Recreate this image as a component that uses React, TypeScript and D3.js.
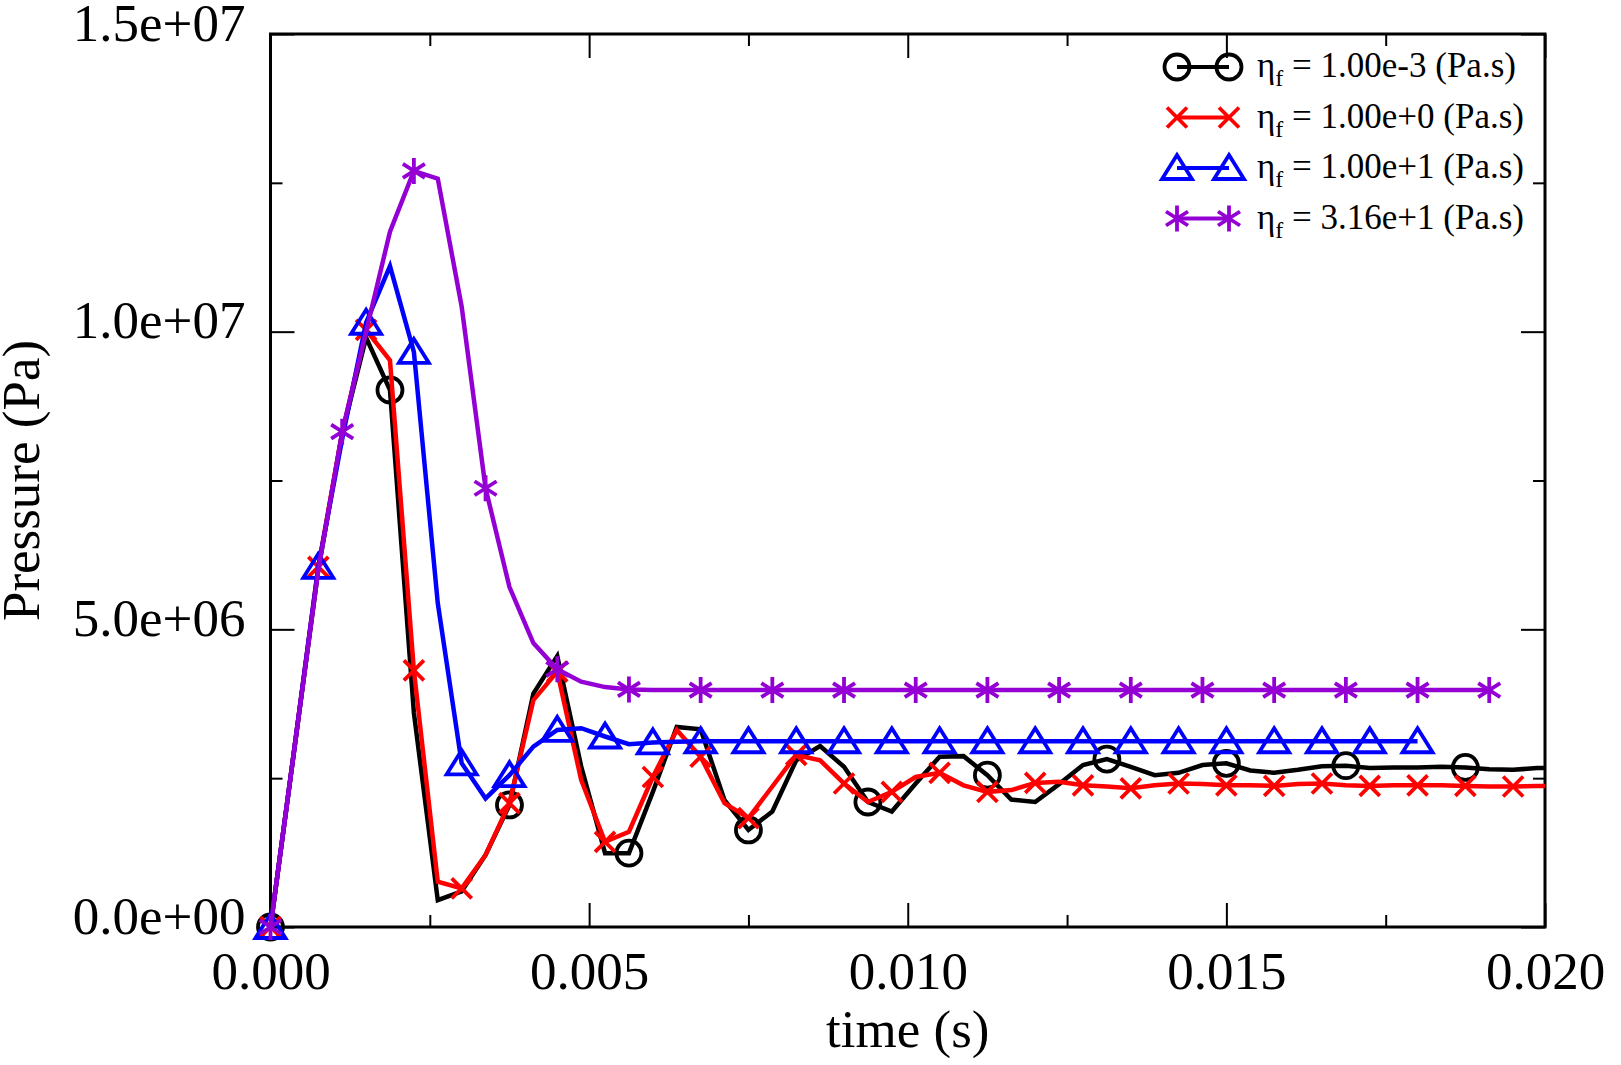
import React, { useEffect, useRef } from "react";
import * as d3 from "d3";

// simulation output step (s)
const DT = 0.000375;

// pressure at each time step, in units of 1e6 Pa
const pEta1e3 = [
  0, 3.0, 6.0, 8.3, 9.9, 9.02, 3.6, 0.45, 0.6, 1.21,
  2.05, 3.92, 4.55, 2.7, 1.24, 1.24, 2.27, 3.36, 3.32, 2.13,
  1.63, 1.94, 2.8, 3.04, 2.69, 2.1, 1.94, 2.41, 2.86, 2.87,
  2.55, 2.14, 2.1, 2.4, 2.72, 2.82, 2.69, 2.55, 2.59, 2.72,
  2.75, 2.63, 2.59, 2.64, 2.7, 2.71, 2.67, 2.68, 2.68, 2.69,
  2.68, 2.65, 2.64, 2.67, 2.67,
];
const pEta1e0 = [
  0, 3.0, 6.05, 8.3, 10.03, 9.52, 4.31, 0.76, 0.65, 1.21,
  2.08, 3.81, 4.29, 2.47, 1.43, 1.6, 2.52, 3.31, 2.86, 2.08,
  1.83, 2.36, 2.89, 2.8, 2.41, 2.1, 2.27, 2.52, 2.59, 2.38,
  2.27, 2.3, 2.42, 2.44, 2.38, 2.36, 2.33, 2.38, 2.41, 2.4,
  2.38, 2.38, 2.37, 2.4, 2.41, 2.38, 2.37, 2.38, 2.38, 2.38,
  2.37, 2.36, 2.36, 2.37, 2.37,
];
const pEta1e1 = [
  0, 3.0, 6.05, 8.2, 10.15, 11.1, 9.66, 5.44, 2.75, 2.16,
  2.55, 3.03, 3.31, 3.34, 3.2, 3.07, 3.1, 3.11, 3.12, 3.12,
  3.12, 3.12, 3.12, 3.12, 3.12, 3.12, 3.12, 3.12, 3.12, 3.12,
  3.12, 3.12, 3.12, 3.12, 3.12, 3.12, 3.12, 3.12, 3.12, 3.12,
  3.12, 3.12, 3.12, 3.12, 3.12, 3.12, 3.12, 3.12, 3.12,
];
const pEta316 = [
  0, 3.0, 6.0, 8.32, 10.0, 11.68, 12.7, 12.57, 10.42, 7.37,
  5.71, 4.77, 4.33, 4.12, 4.03, 3.99, 3.98, 3.98, 3.98, 3.98,
  3.98, 3.98, 3.98, 3.98, 3.98, 3.98, 3.98, 3.98, 3.98, 3.98,
  3.98, 3.98, 3.98, 3.98, 3.98, 3.98, 3.98, 3.98, 3.98, 3.98,
  3.98, 3.98, 3.98, 3.98, 3.98, 3.98, 3.98, 3.98, 3.98, 3.98,
  3.98, 3.98,
];

const legendLabels = ["1.00e-3", "1.00e+0", "1.00e+1", "3.16e+1"];
const colors = ["#000000", "#ff0000", "#0000ff", "#9400d3"];
const markers = ["circle", "cross", "triangle", "star"];
const markEvery = [5, 2, 2, 3];

const xMajor = [0, 0.005, 0.01, 0.015, 0.02];
const xMinor = [0.0025, 0.0075, 0.0125, 0.0175];
const yMajor = [0, 5e6, 1e7, 1.5e7];
const yMinor = [2.5e6, 7.5e6, 1.25e7];

const FONT = "'Liberation Serif', 'Times New Roman', serif";

const fmtY = (v: number) => {
  if (v === 0) return "0.0e+00";
  const e = Math.floor(Math.log10(v) + 1e-9);
  const m = v / Math.pow(10, e);
  return `${m.toFixed(1)}e+${String(e).padStart(2, "0")}`;
};

const drawMarker = (g: any, kind: string, color: string) => {
  const sw = 3.8;
  if (kind === "circle") {
    g.append("circle").attr("r", 12.5).attr("fill", "none").attr("stroke", color).attr("stroke-width", sw);
  } else if (kind === "cross") {
    g.append("path").attr("d", "M-10,-10L10,10M-10,10L10,-10").attr("stroke", color).attr("stroke-width", sw);
  } else if (kind === "triangle") {
    g.append("path").attr("d", "M0,-13L15,11L-15,11Z").attr("fill", "none").attr("stroke", color).attr("stroke-width", sw).attr("stroke-linejoin", "miter");
  } else {
    g.append("path").attr("d", "M0,-13L0,13M-11,-7L11,7M-11,7L11,-7").attr("stroke", color).attr("stroke-width", sw);
  }
};

const PressureChart = () => {
  const ref = useRef<SVGSVGElement>(null);

  useEffect(() => {
    const width = 1621;
    const height = 1065;
    const svg = d3.select(ref.current).attr("width", width).attr("height", height);
    svg.selectAll("*").remove();

    const x = d3.scaleLinear().domain([0, 0.02]).range([270.5, 1545]);
    const y = d3.scaleLinear().domain([0, 1.5e7]).range([927, 34]);

    const series = [pEta1e3, pEta1e0, pEta1e1, pEta316];

    svg.append("clipPath").attr("id", "plot-clip")
      .append("rect")
      .attr("x", x(0)).attr("y", y(1.5e7))
      .attr("width", x(0.02) - x(0)).attr("height", y(0) - y(1.5e7));

    // axes (ticks pointing inward on all four sides)
    const styleAxis = (g: any) => {
      g.select(".domain").remove();
      g.attr("font-family", FONT).attr("font-size", 53);
      g.selectAll("line").attr("stroke-width", 2);
      g.selectAll("text").attr("fill", "#000");
    };

    svg.append("g").attr("transform", `translate(0,${y(0)})`)
      .call(d3.axisBottom(x).tickValues(xMajor).tickSize(-24).tickFormat(d3.format(".3f") as any))
      .call(styleAxis)
      .call((g: any) => g.selectAll("text").attr("y", 62).attr("dy", null));
    svg.append("g").attr("transform", `translate(0,${y(0)})`)
      .call(d3.axisBottom(x).tickValues(xMinor).tickSize(-12).tickFormat(() => ""))
      .call(styleAxis);
    svg.append("g").attr("transform", `translate(0,${y(1.5e7)})`)
      .call(d3.axisTop(x).tickValues(xMajor).tickSize(-24).tickFormat(() => ""))
      .call(styleAxis);
    svg.append("g").attr("transform", `translate(0,${y(1.5e7)})`)
      .call(d3.axisTop(x).tickValues(xMinor).tickSize(-12).tickFormat(() => ""))
      .call(styleAxis);

    svg.append("g").attr("transform", `translate(${x(0)},0)`)
      .call(d3.axisLeft(y).tickValues(yMajor).tickSize(-24).tickFormat(fmtY as any))
      .call(styleAxis)
      .call((g: any) => g.selectAll("text").attr("x", -25).attr("y", 6).attr("dy", null));
    svg.append("g").attr("transform", `translate(${x(0)},0)`)
      .call(d3.axisLeft(y).tickValues(yMinor).tickSize(-12).tickFormat(() => ""))
      .call(styleAxis);
    svg.append("g").attr("transform", `translate(${x(0.02)},0)`)
      .call(d3.axisRight(y).tickValues(yMajor).tickSize(-24).tickFormat(() => ""))
      .call(styleAxis);
    svg.append("g").attr("transform", `translate(${x(0.02)},0)`)
      .call(d3.axisRight(y).tickValues(yMinor).tickSize(-12).tickFormat(() => ""))
      .call(styleAxis);

    svg.append("rect")
      .attr("x", x(0)).attr("y", y(1.5e7))
      .attr("width", x(0.02) - x(0)).attr("height", y(0) - y(1.5e7))
      .attr("fill", "none").attr("stroke", "#000").attr("stroke-width", 3);

    // axis titles
    svg.append("text")
      .attr("x", (x(0) + x(0.02)) / 2).attr("y", 1047)
      .attr("text-anchor", "middle")
      .attr("font-family", FONT).attr("font-size", 53)
      .text("time (s)");
    svg.append("text")
      .attr("transform", `translate(39,${(y(0) + y(1.5e7)) / 2}) rotate(-90)`)
      .attr("text-anchor", "middle")
      .attr("font-family", FONT).attr("font-size", 53)
      .text("Pressure (Pa)");

    // lines
    const line = d3.line<number>()
      .x((d, i) => x(i * DT))
      .y((d) => y(d * 1e6));

    series.forEach((data, s) => {
      svg.append("path")
        .datum(data)
        .attr("clip-path", "url(#plot-clip)")
        .attr("fill", "none")
        .attr("stroke", colors[s])
        .attr("stroke-width", 4.5)
        .attr("stroke-linejoin", "miter")
        .attr("d", line);

      const pts = data
        .map((d, i) => ({ d, i }))
        .filter((p) => p.i % markEvery[s] === 0 && p.i * DT <= 0.02);
      svg.append("g")
        .selectAll("g")
        .data(pts)
        .enter()
        .append("g")
        .attr("transform", (p) => `translate(${x(p.i * DT)},${y(p.d * 1e6)})`)
        .each(function () {
          drawMarker(d3.select(this), markers[s], colors[s]);
        });
    });

    // legend
    const legend = svg.append("g")
      .selectAll("g")
      .data(legendLabels)
      .enter()
      .append("g")
      .attr("transform", (d, i) => `translate(0,${67 + i * 50.5})`);

    legend.append("line")
      .attr("x1", 1177).attr("x2", 1229)
      .attr("stroke", (d, i) => colors[i]).attr("stroke-width", 4);
    legend.each(function (d, i) {
      const g = d3.select(this);
      drawMarker(g.append("g").attr("transform", "translate(1177,0)"), markers[i], colors[i]);
      drawMarker(g.append("g").attr("transform", "translate(1229,0)"), markers[i], colors[i]);
    });

    const txt = legend.append("text")
      .attr("x", 1257).attr("y", 10)
      .attr("font-family", FONT).attr("font-size", 35);
    txt.append("tspan").text("η");
    txt.append("tspan").attr("dy", 9).attr("font-size", 24).text("f");
    txt.append("tspan").attr("dy", -9).text((d) => ` = ${d} (Pa.s)`);
  }, []);

  return (
    <svg ref={ref} style={{ position: "absolute", left: 0, top: 0, background: "#fff" }}></svg>
  );
};

export default function App() {
  return <PressureChart />;
}
